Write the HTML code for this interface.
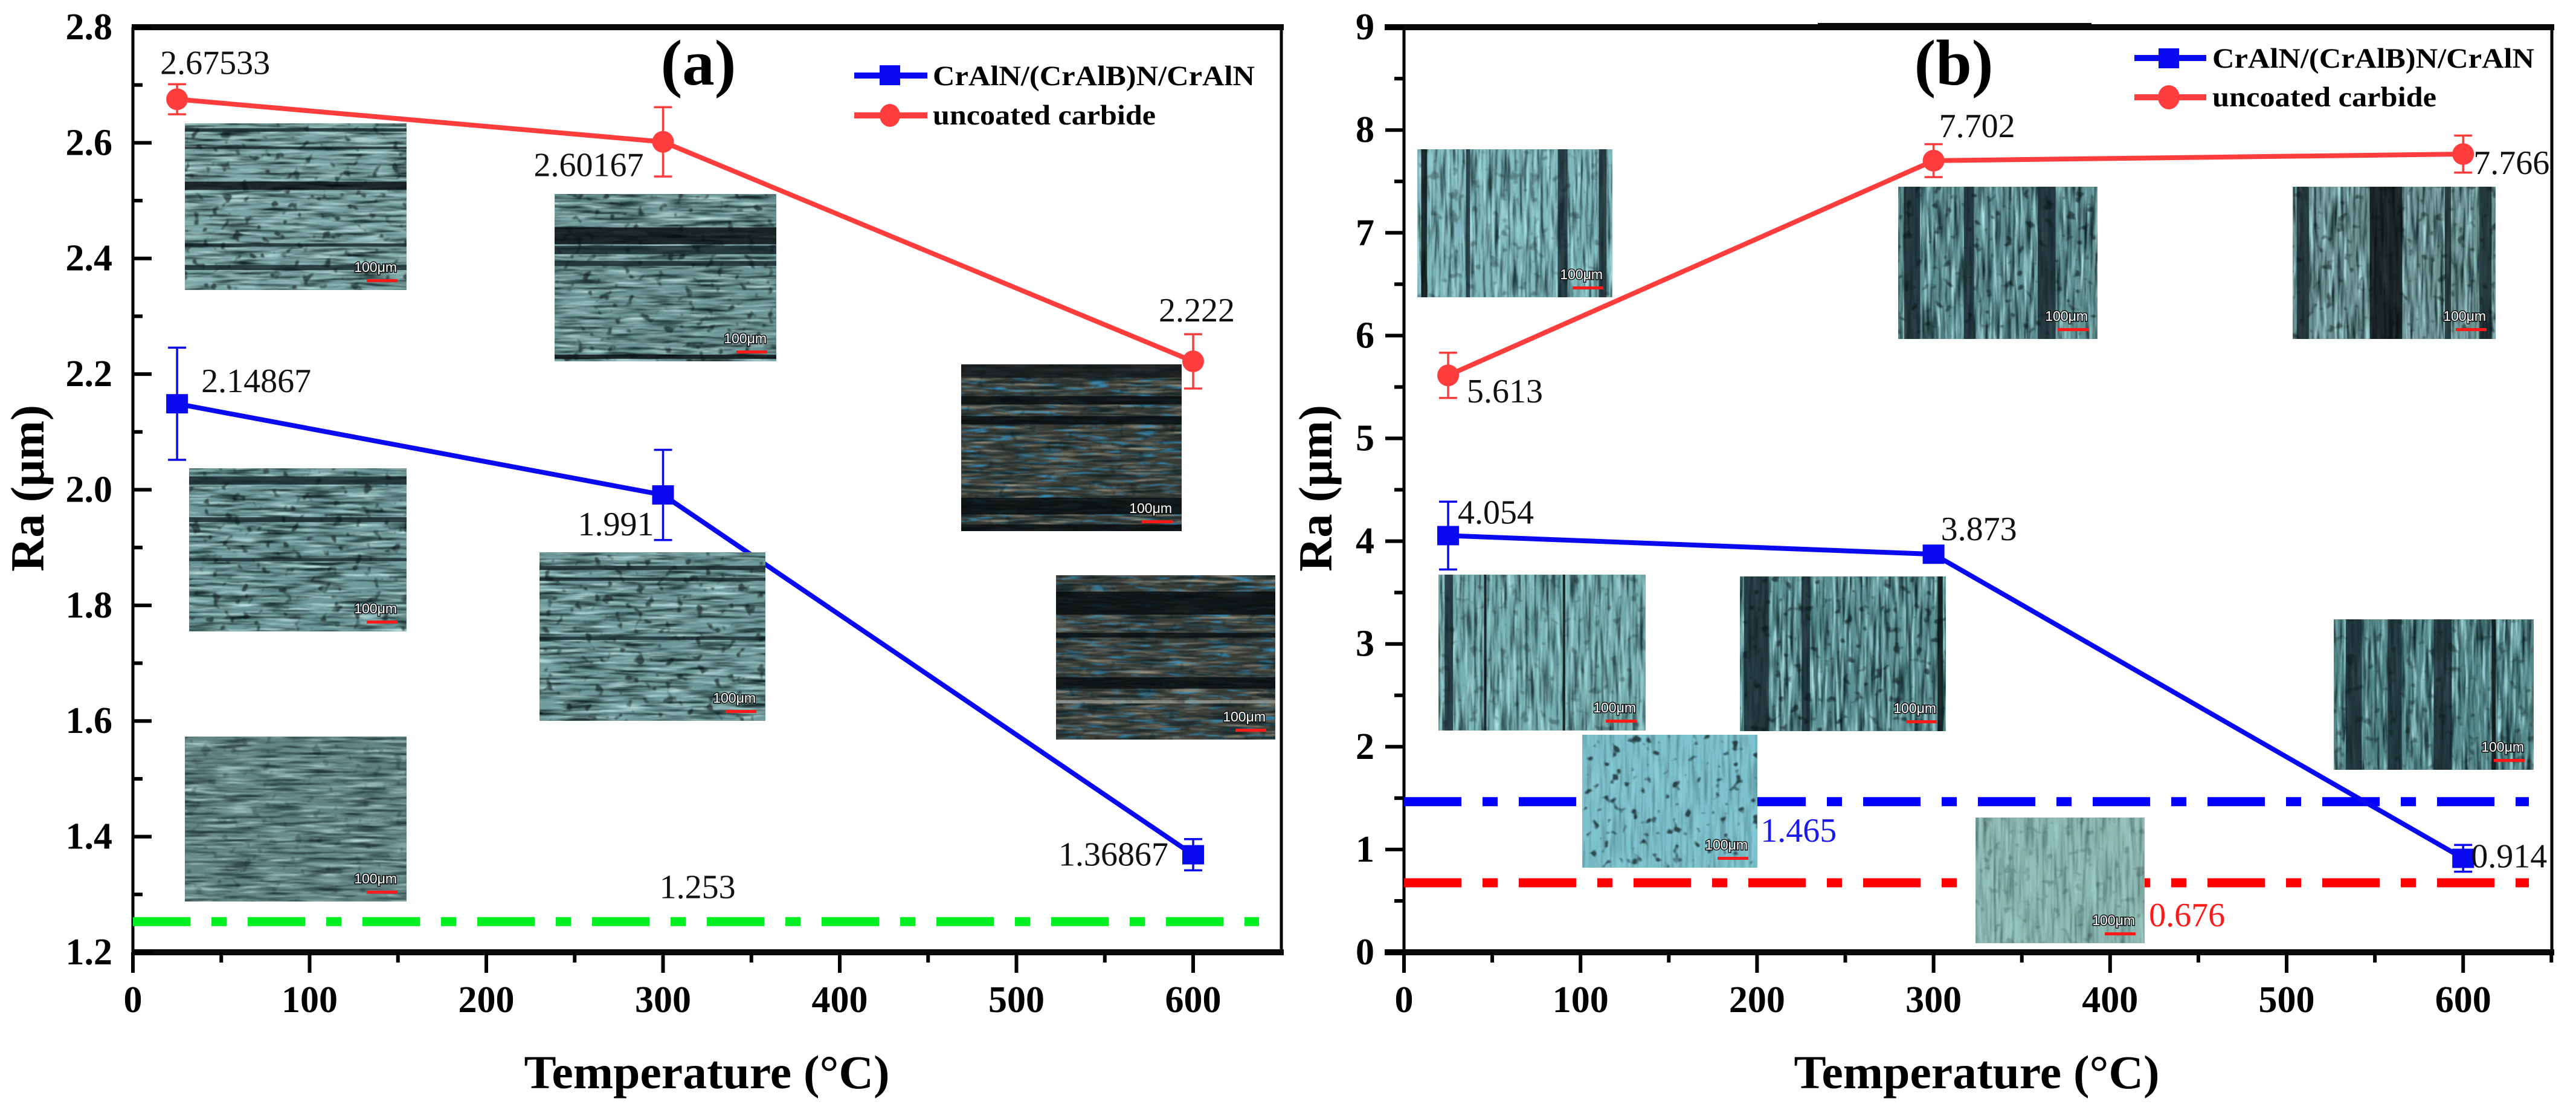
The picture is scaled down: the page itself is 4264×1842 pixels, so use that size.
<!DOCTYPE html>
<html lang="en">
<head>
<meta charset="utf-8">
<title>Ra versus temperature</title>
<style>
html,body{margin:0;padding:0;background:#fff;width:4264px;height:1842px;overflow:hidden}
svg{display:block}
text{font-family:"Liberation Serif",serif;fill:#000}
.tick{font-size:62px;font-weight:bold}
.title{font-size:78px;font-weight:bold}
.panel{font-size:107px;font-weight:bold}
.legend{font-size:47px;font-weight:bold}
.value{font-size:56px;fill:#111}
</style>
</head>
<body>
<svg id="figure" xmlns="http://www.w3.org/2000/svg" width="4264" height="1842" viewBox="0 0 4264 1842">
<defs>
<filter id="darkH" x="0" y="0" width="100%" height="100%" color-interpolation-filters="sRGB"><feTurbulence type="fractalNoise" baseFrequency="0.014 0.2" numOctaves="3" seed="3"/><feColorMatrix type="matrix" values="0 0 0 0 .06 0 0 0 0 .13 0 0 0 0 .14 2.6 0 0 0 -1.15"/><feGaussianBlur stdDeviation="0.9"/></filter>
<filter id="lightH" x="0" y="0" width="100%" height="100%" color-interpolation-filters="sRGB"><feTurbulence type="fractalNoise" baseFrequency="0.014 0.2" numOctaves="3" seed="9"/><feColorMatrix type="matrix" values="0 0 0 0 .76 0 0 0 0 .9 0 0 0 0 .9 0 2.6 0 0 -1.2"/><feGaussianBlur stdDeviation="0.9"/></filter>
<filter id="warmH" x="0" y="0" width="100%" height="100%" color-interpolation-filters="sRGB"><feTurbulence type="fractalNoise" baseFrequency="0.014 0.2" numOctaves="3" seed="14"/><feColorMatrix type="matrix" values="0 0 0 0 .62 0 0 0 0 .6 0 0 0 0 .52 0 2.8 0 0 -1.3"/><feGaussianBlur stdDeviation="0.9"/></filter>
<filter id="blueH" x="0" y="0" width="100%" height="100%" color-interpolation-filters="sRGB"><feTurbulence type="fractalNoise" baseFrequency="0.025 0.2" numOctaves="2" seed="27"/><feColorMatrix type="matrix" values="0 0 0 0 .2 0 0 0 0 .55 0 0 0 0 .72 0 0 4 0 -2.1"/><feGaussianBlur stdDeviation="0.9"/></filter>
<filter id="darkV" x="0" y="0" width="100%" height="100%" color-interpolation-filters="sRGB"><feTurbulence type="fractalNoise" baseFrequency="0.2 0.012" numOctaves="3" seed="5"/><feColorMatrix type="matrix" values="0 0 0 0 .06 0 0 0 0 .15 0 0 0 0 .16 2.6 0 0 0 -1.15"/><feGaussianBlur stdDeviation="0.9"/></filter>
<filter id="lightV" x="0" y="0" width="100%" height="100%" color-interpolation-filters="sRGB"><feTurbulence type="fractalNoise" baseFrequency="0.2 0.012" numOctaves="3" seed="11"/><feColorMatrix type="matrix" values="0 0 0 0 .72 0 0 0 0 .93 0 0 0 0 .94 0 2.6 0 0 -1.2"/><feGaussianBlur stdDeviation="0.9"/></filter>
<filter id="speckle" x="0" y="0" width="100%" height="100%" color-interpolation-filters="sRGB"><feTurbulence type="fractalNoise" baseFrequency="0.06" numOctaves="2" seed="21"/><feColorMatrix type="matrix" values="0 0 0 0 .04 0 0 0 0 .08 0 0 0 0 .09 8 0 0 0 -5"/><feGaussianBlur stdDeviation="0.8"/></filter>
</defs>

<text class="title" transform="translate(72,808) rotate(-90)" text-anchor="middle">Ra (μm)</text>
<text class="title" x="1170" y="1801" text-anchor="middle" textLength="605" lengthAdjust="spacingAndGlyphs">Temperature (°C)</text>
<text class="title" transform="translate(2204,808) rotate(-90)" text-anchor="middle">Ra (μm)</text>
<text class="title" x="3272" y="1801" text-anchor="middle" textLength="605" lengthAdjust="spacingAndGlyphs">Temperature (°C)</text>

<g id="panelA"></g>
<g id="panelB"></g>
<g id="photos"></g>
<g id="valueLabels"></g>

<text class="panel" x="1156" y="140" text-anchor="middle">(a)</text>
<text class="panel" x="3234" y="140" text-anchor="middle">(b)</text>

<g>
  <g>
    <line x1="1414" y1="125" x2="1535" y2="125" stroke="#0a0af0" stroke-width="10"/>
    <rect x="1456" y="108" width="34" height="33" fill="#0a0af0"/>
    <text class="legend" x="1544" y="141" textLength="533" lengthAdjust="spacingAndGlyphs">CrAlN/(CrAlB)N/CrAlN</text>
  </g>
  <g>
    <line x1="1414" y1="191" x2="1535" y2="191" stroke="#ff3d3d" stroke-width="10"/>
    <ellipse cx="1473" cy="191" rx="17" ry="19" fill="#ff3d3d"/>
    <text class="legend" x="1544" y="206" textLength="369" lengthAdjust="spacingAndGlyphs">uncoated carbide</text>
  </g>
</g>
<g>
  <g>
    <line x1="3533" y1="96" x2="3652" y2="96" stroke="#0a0af0" stroke-width="10"/>
    <rect x="3573" y="80" width="34" height="33" fill="#0a0af0"/>
    <text class="legend" x="3662" y="112" textLength="533" lengthAdjust="spacingAndGlyphs">CrAlN/(CrAlB)N/CrAlN</text>
  </g>
  <g>
    <line x1="3533" y1="161" x2="3652" y2="161" stroke="#ff3d3d" stroke-width="10"/>
    <ellipse cx="3590" cy="161" rx="18" ry="20" fill="#ff3d3d"/>
    <text class="legend" x="3662" y="176" textLength="371" lengthAdjust="spacingAndGlyphs">uncoated carbide</text>
  </g>
</g>
</svg>

<script>
// ---- chart data ----
const temperatures = [25, 300, 600];
const coatedA = [2.14867, 1.991, 1.36867];
const coatedErrA = [0.097, 0.078, 0.027];
const uncoatedA = [2.67533, 2.60167, 2.222];
const uncoatedErrA = [0.026, 0.06, 0.047];
const referenceA = [1.253];
const coatedB = [4.054, 3.873, 0.914];
const coatedErrB = [0.33, 0.05, 0.13];
const uncoatedB = [5.613, 7.702, 7.766];
const uncoatedErrB = [0.22, 0.16, 0.18];
const referenceCoatedB = [1.465];
const referenceUncoatedB = [0.676];
const xTickLabels = ['0', '100', '200', '300', '400', '500', '600'];
const yTickLabelsA = ['1.2', '1.4', '1.6', '1.8', '2.0', '2.2', '2.4', '2.6', '2.8'];
const yTickLabelsB = ['0', '1', '2', '3', '4', '5', '6', '7', '8', '9'];

// ---- axis functions ----
const xA = v => 220 + v * 2.925;
const yA = v => 1576 - (v - 1.2) * 956.9;
const xB = v => 2324 + v * 2.922;
const yB = v => 1576 - v * 170.1;

const NS = 'http://www.w3.org/2000/svg';
const BLUE = '#0a0af0';
const RED = '#ff3d3d';

function make(parent, tag, attrs, content) {
  const el = document.createElementNS(NS, tag);
  for (const k in attrs) el.setAttribute(k, attrs[k]);
  if (content !== undefined) el.textContent = content;
  parent.appendChild(el);
  return el;
}

function drawFrame(g, sx, sy, left, right, top, bottom, yLabels, yFirst, yStep, inward, labelEnd) {
  const tickDir = inward ? 1 : -1;
  const frame = make(g, 'path', {d: `M${left} ${top}V${bottom}M${right} ${top}V${bottom}`, stroke: '#000', 'stroke-width': 5, fill: 'none'});
  
  
  const hStart = inward ? left - 2 : left - 32;
  const topLine = make(g, 'rect', {x: hStart, y: top - 5, width: right + 4 - hStart, height: 10, fill: '#0a0a0a'});
  
  
  const bottomLine = make(g, 'rect', {x: hStart, y: bottom - 5, width: right + 4 - hStart, height: 10, fill: '#0a0a0a'});
  
  

  xTickLabels.forEach((label, i) => {
    const v = Number(label);
    const tick = make(g, 'line', {x1: sx(v), x2: sx(v), y1: bottom, y2: bottom + 34, stroke: '#000', 'stroke-width': 6});
    
    
    const text = make(g, 'text', {class: 'tick', x: sx(v), y: 1675, 'text-anchor': 'middle'}, label);
    
    
    const mv = v + 50;
    if (sx(mv) <= right) {
      const minor = make(g, 'line', {x1: sx(mv), x2: sx(mv), y1: bottom, y2: bottom + 17, stroke: '#000', 'stroke-width': 6});
      
      
    }
  });

  yLabels.forEach((label, i) => {
    const v = Number(label);
    const tick = make(g, 'line', {x1: left, x2: left + tickDir * 31, y1: sy(v), y2: sy(v), stroke: '#000', 'stroke-width': 6});
    
    
    const text = make(g, 'text', {class: 'tick', x: labelEnd, y: sy(v) + 20, 'text-anchor': 'end'}, label);
    
    
    if (i < yLabels.length - 1) {
      const mv = v + yStep / 2;
      const minor = make(g, 'line', {x1: left, x2: left + tickDir * 16, y1: sy(mv), y2: sy(mv), stroke: '#000', 'stroke-width': 6});
      
      
    }
  });
}

function drawReference(g, name, sy, value, x0, x1, color) {
  const line = make(g, 'line', {x1: x0, x2: x1, y1: sy(value), y2: sy(value), stroke: color, 'stroke-width': 15, 'stroke-dasharray': '95 35 25 35'});
  
  
}

function drawSeries(g, name, sx, sy, values, errs, color, square) {
  const pts = values.map((v, i) => sx(temperatures[i]) + ',' + sy(v)).join(' ');
  const line = make(g, 'polyline', {points: pts, fill: 'none', stroke: color, 'stroke-width': 8, 'stroke-linejoin': 'round'});
  
  
  values.forEach((v, i) => {
    const cx = sx(temperatures[i]);
    const hi = sy(v + errs[i]);
    const lo = sy(v - errs[i]);
    const err = make(g, 'path', {d: `M${cx} ${hi}V${lo}M${cx - 15} ${hi}h30M${cx - 15} ${lo}h30`, stroke: color, 'stroke-width': 3.5, fill: 'none'});
    
    
    const cy = sy(v);
    const marker = square
      ? make(g, 'rect', {x: cx - 18, y: cy - 16, width: 36, height: 32, fill: color})
      : make(g, 'ellipse', {cx: cx, cy: cy, rx: 18, ry: 18, fill: color});
    
    
  });
}

const panelA = document.getElementById('panelA');
const panelB = document.getElementById('panelB');
drawFrame(panelA, xA, yA, 220, 2121, 45, 1576, yTickLabelsA, 1.2, 0.2, true, 186);
drawFrame(panelB, xB, yB, 2324, 4224, 45, 1576, yTickLabelsB, 0, 1, false, 2275);

const topBump = make(panelB, 'rect', {x: 3009, y: 38, width: 453, height: 6, fill: '#0a0a0a'});



drawReference(panelA, 'reference-line-green', yA, referenceA[0], 220, 2084, '#00ee22');
drawReference(panelB, 'reference-line-blue', yB, referenceCoatedB[0], 2324, 4186, '#0000ff');
drawReference(panelB, 'reference-line-red', yB, referenceUncoatedB[0], 2324, 4186, '#ff0000');
drawSeries(panelA, 'series-uncoated-a', xA, yA, uncoatedA, uncoatedErrA, RED, false);
drawSeries(panelA, 'series-coated-a', xA, yA, coatedA, coatedErrA, BLUE, true);
drawSeries(panelB, 'series-uncoated-b', xB, yB, uncoatedB, uncoatedErrB, RED, false);
drawSeries(panelB, 'series-coated-b', xB, yB, coatedB, coatedErrB, BLUE, true);

// ---- microscope photo insets ----
const photos = document.getElementById('photos');
function micrograph(id, x0, y0, x1, y1, base, vertical, warm, contrast, specks, bands) {
  const w = x1 - x0, h = y1 - y0;
  const g = make(photos, 'g', {});
  
  
  make(g, 'rect', {x: x0, y: y0, width: w, height: h, fill: base});
  const lightFilter = vertical ? 'lightV' : (warm ? 'warmH' : 'lightH');
  make(g, 'rect', {x: x0, y: y0, width: w, height: h, filter: `url(#${lightFilter})`, opacity: contrast});
  if (warm) make(g, 'rect', {x: x0, y: y0, width: w, height: h, filter: 'url(#blueH)'});
  make(g, 'rect', {x: x0, y: y0, width: w, height: h, filter: `url(#${vertical ? 'darkV' : 'darkH'})`, opacity: contrast});
  bands.forEach(b => {
    const a = vertical
      ? {x: x0 + b[0] * w, y: y0, width: b[1] * w, height: h, fill: b[2], opacity: 0.8}
      : {x: x0, y: y0 + b[0] * h, width: w, height: b[1] * h, fill: b[2], opacity: 0.8};
    make(g, 'rect', a);
  });
  make(g, 'rect', {x: x0, y: y0, width: w, height: h, filter: 'url(#speckle)', opacity: specks});
  const bar = make(g, 'rect', {x: x1 - 66, y: y1 - 18, width: 51, height: 5, fill: '#ff1a1a'});
  
  
  const note = make(g, 'text', {x: x1 - 16, y: y1 - 30, 'text-anchor': 'end', style: 'font-family:"Liberation Sans",sans-serif;font-size:23px;fill:#fff;paint-order:stroke;stroke:#111;stroke-width:3px'}, '100μm');
  
  
}
const D = '#14242a', K = '#060a0c';
micrograph('a-uncoated-25', 306, 204, 673, 480, '#7ba5a5', false, false, 1, .6, [[.03,.02,D],[.14,.015,D],[.35,.05,K],[.72,.02,D],[.85,.03,D]]);
micrograph('a-uncoated-300', 918, 321, 1285, 598, '#6c9595', false, false, 1, .6, [[.2,.1,K],[.31,.05,D],[.4,.03,D],[.96,.025,K]]);
micrograph('a-uncoated-600', 1591, 603, 1956, 879, '#3a3b35', false, true, 1, .3, [[0,.08,'#15181a'],[.19,.05,K],[.31,.05,K],[.8,.1,K],[.96,.04,K]]);
micrograph('a-coated-25', 313, 775, 673, 1045, '#6d9999', false, false, 1, .6, [[.05,.05,D],[.3,.03,D],[.55,.02,D]]);
micrograph('a-coated-300', 893, 914, 1267, 1193, '#6f9b9b', false, false, 1, .6, [[.08,.025,D],[.15,.02,D],[.5,.02,D]]);
micrograph('a-coated-600', 1748, 952, 2111, 1224, '#3c3d37', false, true, 1, .3, [[.1,.14,K],[.35,.03,K],[.62,.07,K],[.76,.02,'#9a9a90']]);
micrograph('a-reference', 306, 1219, 673, 1492, '#628586', false, false, .85, .25, []);
micrograph('b-uncoated-25', 2346, 247, 2669, 492, '#7fb9bd', true, false, .9, .3, [[.02,.03,K],[.25,.02,D],[.72,.05,D],[.93,.04,D]]);
micrograph('b-uncoated-300', 3142, 309, 3472, 561, '#5e8f92', true, false, 1, .6, [[.03,.08,D],[.33,.05,D],[.7,.09,D]]);
micrograph('b-uncoated-600', 3795, 309, 4131, 561, '#6e9595', true, false, 1, .5, [[.02,.06,D],[.38,.16,K],[.75,.03,D],[.92,.06,D]]);
micrograph('b-coated-25', 2381, 951, 2724, 1209, '#76afb0', true, false, .85, .3, [[.03,.04,D],[.22,.012,K],[.6,.012,K]]);
micrograph('b-coated-300', 2880, 954, 3221, 1210, '#5b9193', true, false, 1, .6, [[.02,.12,D],[.96,.025,K],[.3,.04,D]]);
micrograph('b-coated-600', 3863, 1025, 4194, 1274, '#528889', true, false, 1, .4, [[.06,.08,D],[.27,.07,D],[.5,.09,D],[.79,.02,K]]);
micrograph('b-reference-coated', 2619, 1216, 2909, 1436, '#7cc2ce', true, false, .3, .7, []);
micrograph('b-reference-uncoated', 3270, 1353, 3550, 1561, '#8dbab2', true, false, .4, .2, []);

// ---- printed values, offset from the marks they annotate ----
const valueLabels = document.getElementById('valueLabels');
function valueLabel(name, x, y, value, color) {
  const t = make(valueLabels, 'text', {class: 'value', x: x, y: y}, String(value));
  if (color) t.style.fill = color;
  
  
}
const T = temperatures;
valueLabel('label-uncoated-a-25', xA(T[0]) - 28, yA(uncoatedA[0]) - 42, uncoatedA[0]);
valueLabel('label-uncoated-a-300', xA(T[1]) - 214, yA(uncoatedA[1]) + 57, uncoatedA[1]);
valueLabel('label-uncoated-a-600', xA(T[2]) - 57, yA(uncoatedA[2]) - 66, uncoatedA[2]);
valueLabel('label-coated-a-25', xA(T[0]) + 40, yA(coatedA[0]) - 19, coatedA[0]);
valueLabel('label-coated-a-300', xA(T[1]) - 141, yA(coatedA[1]) + 67, coatedA[1]);
valueLabel('label-coated-a-600', xA(T[2]) - 223, yA(coatedA[2]) + 18, coatedA[2]);
valueLabel('label-reference-a', xA(298), yA(referenceA[0]) - 39, referenceA[0]);
valueLabel('label-uncoated-b-25', xB(T[0]) + 31, yB(uncoatedB[0]) + 45, uncoatedB[0]);
valueLabel('label-uncoated-b-300', xB(T[1]) + 9, yB(uncoatedB[1]) - 39, uncoatedB[1]);
valueLabel('label-uncoated-b-600', xB(T[2]) + 17, yB(uncoatedB[2]) + 33, uncoatedB[2]);
valueLabel('label-coated-b-25', xB(T[0]) + 16, yB(coatedB[0]) - 20, coatedB[0]);
valueLabel('label-coated-b-300', xB(T[1]) + 12, yB(coatedB[1]) - 23, coatedB[1]);
valueLabel('label-coated-b-600', xB(T[2]) + 13, yB(coatedB[2]) + 15, coatedB[2]);
valueLabel('label-reference-coated-b', xB(202), yB(referenceCoatedB[0]) + 66, referenceCoatedB[0], '#1a1af0');
valueLabel('label-reference-uncoated-b', xB(422), yB(referenceUncoatedB[0]) + 72, referenceUncoatedB[0], '#ff1a1a');
</script>
</body>
</html>
